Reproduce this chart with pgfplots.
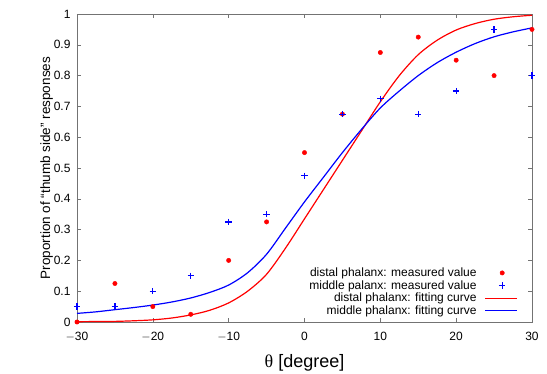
\documentclass[border=0pt]{standalone}
\usepackage{fontspec}
\setmainfont{Liberation Sans}
\newfontfamily\greekserif{Liberation Serif}
\usepackage{pgfplots}
\pgfplotsset{compat=1.18}
\pgfplotsset{
  markleg/.style={legend image code/.code={\path[draw=none,fill=none] (0pt,0pt) -- (32pt,0pt); \draw[##1,#1] plot coordinates {(17pt,0pt)};}},
  lineleg/.style={legend image code/.code={\draw[##1] (0pt,0pt) -- (32pt,0pt);}},
}
\begin{document}
\begin{tikzpicture}[x=1pt,y=1pt]
\useasboundingbox (-77,-51) rectangle (470,322);
\begin{axis}[
  at={(0,0)}, anchor=south west,
  scale only axis, width=455pt, height=308pt,
  xmin=-30, xmax=30, ymin=0, ymax=1,
  xtick={-30,-20,...,30},
  ytick={0,0.1,...,1.01},
  yticklabels={0,0.1,0.2,0.3,0.4,0.5,0.6,0.7,0.8,0.9,1},
  xticklabels={$-$30,$-$20,$-$10,0,10,20,30},
  tick align=inside, tick pos=both,
  major tick length=4pt,
  axis line style={draw=black!55, line width=0.8pt},
  tick style={draw=black!55, line width=0.6pt},
  every tick label/.append style={font=\fontsize{12}{13}\selectfont},
  xticklabel style={yshift=-7pt},
  yticklabel style={xshift=-3pt},
  /pgf/number format/assume math mode=true,
  xlabel={{\greekserif θ} [degree]},
  ylabel={Proportion of “thumb side” responses},
  xlabel style={font=\fontsize{18}{20}\selectfont, yshift=-6pt},
  ylabel style={font=\fontsize{13.5}{15}\selectfont, yshift=-6pt},
  legend cell align=right,
  legend plot pos=right,
  legend style={draw=none, fill=none, at={(1,0)}, anchor=south east,
     xshift=-13pt, yshift=3pt, font=\fontsize{12}{12.5}\selectfont,
     row sep=-1.6pt, column sep=6pt, inner sep=1pt},
  clip=false,
]
\addplot[only marks, mark=*, mark size=2.2pt, color=red, mark options={red}, markleg={red}]
coordinates {
(-30,0) (-25,0.125) (-20,0.05) (-15,0.025) (-10,0.2) (-5,0.325) (0,0.55)
(5,0.675) (10,0.875) (15,0.925) (20,0.85) (25,0.8) (30,0.95)
};
\addlegendentry{distal phalanx: measured value}
\addplot[only marks, mark=+, mark size=3.2pt, color=blue, mark options={draw=blue, line width=1.2pt}, markleg={draw=blue}]
coordinates {
(-30,0.05) (-25,0.05) (-20,0.1) (-15,0.15) (-10,0.325) (-5,0.35) (0,0.475)
(5,0.675) (10,0.725) (15,0.675) (20,0.75) (25,0.95) (30,0.8)
};
\addlegendentry{middle palanx: measured value}
\addplot[red, line width=1.2pt, smooth, mark=none, lineleg]
coordinates {
(-30,0.001) (-27.5,0.0015) (-25,0.002) (-22.5,0.004) (-20,0.007) (-17.5,0.013)
(-15,0.023) (-12.5,0.038) (-10,0.062) (-7.5,0.10) (-5,0.155) (-2.5,0.24)
(0,0.335) (2.5,0.43) (5,0.525) (7.5,0.62) (10,0.715) (12.5,0.80) (15,0.868)
(17.5,0.915) (20,0.948) (22.5,0.969) (25,0.983) (27.5,0.991) (30,0.996)
};
\addlegendentry{distal phalanx: fitting curve}
\addplot[blue, line width=1.2pt, smooth, mark=none, lineleg]
coordinates {
(-30,0.028) (-27.5,0.033) (-25,0.04) (-22.5,0.047) (-20,0.055) (-17.5,0.065)
(-15,0.078) (-12.5,0.096) (-10,0.12) (-7.5,0.16) (-5,0.22) (-2.5,0.305)
(0,0.39) (2.5,0.47) (5,0.55) (7.5,0.625) (10,0.695) (12.5,0.75) (15,0.80)
(17.5,0.842) (20,0.876) (22.5,0.904) (25,0.926) (27.5,0.942) (30,0.955)
};
\addlegendentry{middle phalanx: fitting curve}
\end{axis}
\end{tikzpicture}
\end{document}
